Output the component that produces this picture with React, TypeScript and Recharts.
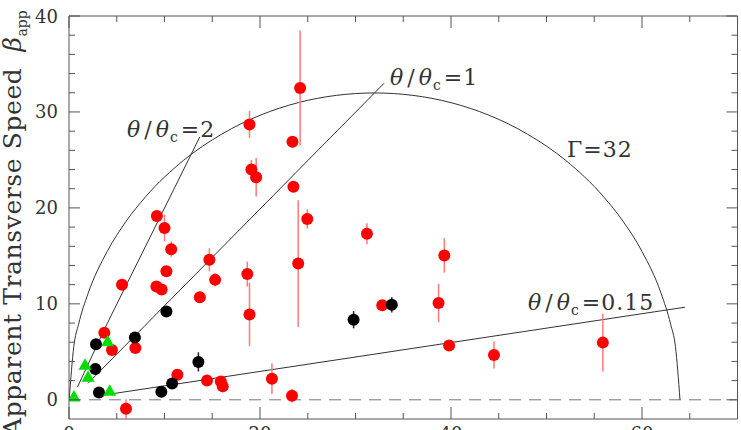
import React from 'react';
import { ComposedChart, Scatter, Line, XAxis, YAxis, ReferenceLine, ErrorBar } from 'recharts';

// [doppler factor, apparent speed, error]
const redSources = [
  [5.97, -0.94, 1.0], [5.55, 12.0, 0], [3.7, 7.0, 0], [4.5, 5.2, 0], [6.95, 5.4, 0],
  [9.2, 19.15, 0], [10.0, 17.9, 1.4], [10.7, 15.7, 0.8], [10.2, 13.4, 0], [9.15, 11.8, 0.5],
  [9.7, 11.5, 0], [11.35, 2.6, 0], [13.7, 10.7, 0], [14.7, 14.6, 1.2], [15.3, 12.5, 0.7],
  [14.45, 2.0, 0], [15.9, 1.9, 0.5], [16.1, 1.4, 0], [18.9, 28.7, 1.4], [19.1, 24.0, 1.0],
  [19.6, 23.2, 2.0], [18.67, 13.1, 1.3], [18.9, 8.9, 3.3], [21.25, 2.2, 1.6], [23.4, 26.9, 0.6],
  [24.2, 32.5, 6.0], [23.5, 22.2, 0], [24.0, 14.2, 6.6], [24.95, 18.85, 1.0], [23.35, 0.42, 0.7],
  [31.2, 17.3, 1.1], [32.8, 9.85, 0], [39.3, 15.05, 1.8], [38.7, 10.1, 2.0], [39.8, 5.67, 0],
  [44.5, 4.67, 1.4], [55.9, 5.96, 3.0],
];

const blackSources = [
  [2.83, 5.8, 0], [2.76, 3.2, 0], [3.14, 0.76, 0], [6.9, 6.5, 0], [10.2, 9.2, 0],
  [9.67, 0.84, 0], [10.8, 1.7, 0], [13.55, 3.95, 1.0], [29.8, 8.35, 0.9], [33.8, 9.9, 0.8],
];

const greenSources = [
  [0.52, 0.35], [1.68, 3.66], [2.0, 2.4], [4.05, 6.1], [4.26, 0.94],
];

// Gamma = 32 envelope, read along the arc
const gammaCurve = [
  [0.02, 0], [0.5, 5.55], [1, 7.87], [2, 11.09], [4, 15.46], [6, 18.63], [8, 21.14],
  [12, 24.96], [16, 27.69], [20, 29.65], [24, 30.97], [28, 31.73], [32, 31.98],
  [36, 31.73], [40, 30.97], [44, 29.65], [48, 27.69], [52, 24.96], [56, 21.14],
  [58, 18.63], [60, 15.46], [62, 11.09], [63, 7.87], [63.5, 5.55], [63.98, 0],
];
const ratio2 = [[0.88, 1.32], [4.0, 7.95], [13.7, 27.4]];
const ratio1 = [[2.0, 1.73], [33.0, 33.0]];
const ratio015 = [[3.66, 0.5], [64.5, 9.65]];

const xTicks = [0, 5, 10, 15, 20, 25, 30, 35, 40, 45, 50, 55, 60, 65, 70];
const yTicks = [0, 2, 4, 6, 8, 10, 12, 14, 16, 18, 20, 22, 24, 26, 28, 30, 32, 34, 36, 38, 40];

const toPts = (rows: number[][]) => rows.map(([x, y, e]) => ({ x, y, e: e ?? 0 }));

const INK = '#333';
const AXIS = '#555';
const SERIF = '"DejaVu Serif", serif';

function BottomTick({ x, y, payload }: any) {
  const major = payload.value % 20 === 0;
  return (
    <g>
      <line x1={x} x2={x} y1={y} y2={y - (major ? 12 : 6)} stroke={AXIS} />
      {major && (
        <text x={x} y={y + 21} textAnchor="middle" fontFamily={SERIF} fontSize={18} fill={INK}>
          {payload.value}
        </text>
      )}
    </g>
  );
}

function TopTick({ x, y, payload }: any) {
  const major = payload.value % 20 === 0;
  return <line x1={x} x2={x} y1={y} y2={y + (major ? 12 : 6)} stroke={AXIS} />;
}

function LeftTick({ x, y, payload }: any) {
  const major = payload.value % 10 === 0;
  return (
    <g>
      <line x1={x} x2={x + (major ? 11 : 6)} y1={y} y2={y} stroke={AXIS} />
      {major && (
        <text x={x - 11} y={y + 6.5} textAnchor="end" fontFamily={SERIF} fontSize={18} fill={INK}>
          {payload.value}
        </text>
      )}
    </g>
  );
}

function RightTick({ x, y, payload }: any) {
  const major = payload.value % 10 === 0;
  return <line x1={x} x2={x - (major ? 11 : 6)} y1={y} y2={y} stroke={AXIS} />;
}

function RatioText({ x, y, value }: { x: number; y: number; value: string }) {
  return (
    <text x={x} y={y} fontFamily={SERIF} fontSize={22} fill={INK} letterSpacing={1}>
      <tspan fontStyle="italic">θ</tspan>
      <tspan dx={3}>/</tspan>
      <tspan dx={3} fontStyle="italic">θ</tspan>
      <tspan fontSize={14} dy={5}>c</tspan>
      <tspan dy={-5} dx={2}>={value}</tspan>
    </text>
  );
}

const dot = (fill: string) => (p: any) => <circle cx={p.cx} cy={p.cy} r={6} fill={fill} />;
const tri = (p: any) => (
  <polygon points={`${p.cx},${p.cy - 6.5} ${p.cx - 6.5},${p.cy + 5} ${p.cx + 6.5},${p.cy + 5}`} fill="#00dd00" />
);

export default function App() {
  return (
    <div style={{ position: 'fixed', left: 0, top: 0, width: 741, height: 430, overflow: 'hidden', background: '#fff' }}>
      <ComposedChart width={741} height={460} margin={{ top: 15, right: 0, bottom: 0, left: 29 }}>
        <XAxis xAxisId={0} dataKey="x" type="number" domain={[0, 70]} ticks={xTicks} interval={0}
          allowDataOverflow stroke={AXIS} tickSize={0} tickMargin={0} height={41} tick={<BottomTick />} />
        <XAxis xAxisId="t" orientation="top" dataKey="x" type="number" domain={[0, 70]} ticks={xTicks}
          interval={0} allowDataOverflow stroke={AXIS} tickSize={0} tickMargin={0} height={1} tick={<TopTick />} />
        <YAxis yAxisId={0} dataKey="y" type="number" domain={[-2, 40]} ticks={yTicks} interval={0}
          allowDataOverflow stroke={AXIS} tickSize={0} tickMargin={0} width={40} tick={<LeftTick />} />
        <YAxis yAxisId="r" orientation="right" dataKey="y" type="number" domain={[-2, 40]} ticks={yTicks}
          interval={0} allowDataOverflow stroke={AXIS} tickSize={0} tickMargin={0} width={3.5} tick={<RightTick />} />
        <ReferenceLine y={0} stroke="#777" strokeDasharray="12 8" />
        <Line data={toPts(gammaCurve)} dataKey="y" type="monotone" stroke={INK} strokeWidth={1} dot={false} isAnimationActive={false} />
        <Line data={toPts(ratio2)} dataKey="y" type="linear" stroke={INK} strokeWidth={1} dot={false} isAnimationActive={false} />
        <Line data={toPts(ratio1)} dataKey="y" type="linear" stroke={INK} strokeWidth={1} dot={false} isAnimationActive={false} />
        <Line data={toPts(ratio015)} dataKey="y" type="linear" stroke={INK} strokeWidth={1} dot={false} isAnimationActive={false} />
        <Scatter data={toPts(redSources)} shape={dot('#ff0000')} isAnimationActive={false}>
          <ErrorBar dataKey="e" direction="y" width={0} stroke="#ff7a7a" strokeWidth={1.5} />
        </Scatter>
        <Scatter data={toPts(blackSources)} shape={dot('#000')} isAnimationActive={false}>
          <ErrorBar dataKey="e" direction="y" width={0} stroke="#222" strokeWidth={1.5} />
        </Scatter>
        <Scatter data={toPts(greenSources)} shape={tri} isAnimationActive={false} />
      </ComposedChart>
      <svg width={741} height={430} style={{ position: 'absolute', left: 0, top: 0, pointerEvents: 'none' }}>
        <text transform="translate(21,436) rotate(-90)" fontFamily={SERIF} fontSize={25} fill={INK} letterSpacing={0.6}>
          Apparent Transverse Speed
          <tspan dx={16} fontStyle="italic">β</tspan>
          <tspan fontSize={14} dy={6} letterSpacing={0}>app</tspan>
        </text>
        <RatioText x={127} y={137} value="2" />
        <RatioText x={390} y={85} value="1" />
        <RatioText x={528} y={310} value="0.15" />
        <text x={567} y={157} fontFamily={SERIF} fontSize={22} fill={INK} letterSpacing={1}>Γ=32</text>
      </svg>
    </div>
  );
}
